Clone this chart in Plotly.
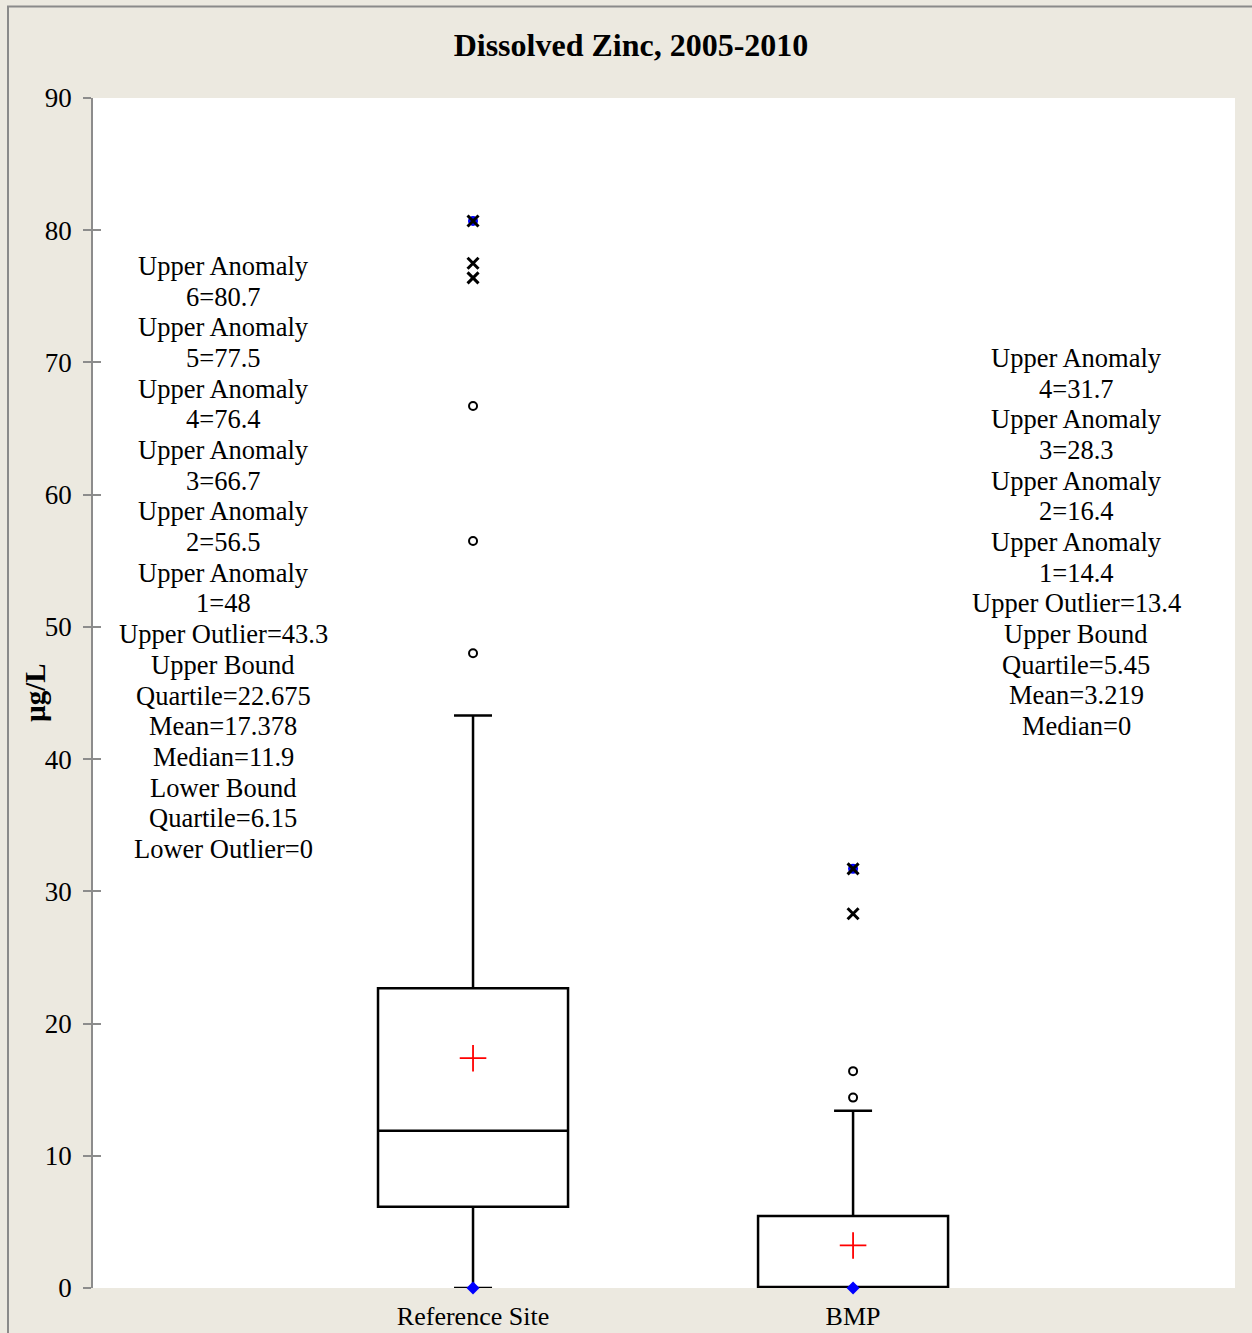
import plotly.graph_objects as go

# ---------------- data ----------------
categories = ["Reference Site", "BMP"]
cat_pos = [1, 2]
q1 = [6.15, 0]
median = [11.9, 0]
q3 = [22.675, 5.45]
mean = [17.378, 3.219]
lower_fence = [0, 0]
upper_fence = [43.3, 13.4]
minimum = [0, 0]

ref_anomalies = [48, 56.5, 66.7, 76.4, 77.5, 80.7]
bmp_anomalies = [14.4, 16.4, 28.3, 31.7]
anomalies = [ref_anomalies, bmp_anomalies]

y_ticks = [0, 10, 20, 30, 40, 50, 60, 70, 80, 90]

FONT = "Liberation Serif"
BG = "#ECE9E0"

fig = go.Figure()

for i, cat in enumerate(categories):
    fig.add_trace(go.Box(
        x=[cat_pos[i]], q1=[q1[i]], median=[median[i]], q3=[q3[i]],
        lowerfence=[lower_fence[i]], upperfence=[upper_fence[i]],
        width=0.5, whiskerwidth=0.2, boxpoints=False,
        fillcolor="white", line=dict(color="black", width=2.5),
        showlegend=False, hoverinfo="skip",
    ))

for i, cat in enumerate(categories):
    vals = anomalies[i]
    extreme_limit = q3[i] + 3 * (q3[i] - q1[i])
    mild = [v for v in vals if v <= extreme_limit]
    extreme = [v for v in vals if v > extreme_limit]
    # mild anomalies: open circles
    fig.add_trace(go.Scatter(
        x=[cat_pos[i]] * len(mild), y=mild, mode="markers",
        marker=dict(symbol="circle-open", size=8, color="black", line=dict(width=2)),
        showlegend=False, cliponaxis=False, hoverinfo="skip"))
    # maximum: blue dot
    fig.add_trace(go.Scatter(
        x=[cat_pos[i]], y=[max(vals)], mode="markers",
        marker=dict(symbol="circle", size=10, color="blue"),
        showlegend=False, cliponaxis=False, hoverinfo="skip"))
    # extreme anomalies: x marks
    fig.add_trace(go.Scatter(
        x=[cat_pos[i]] * len(extreme), y=extreme, mode="markers",
        marker=dict(symbol="x-thin", size=11, color="black", line=dict(width=3, color="black")),
        showlegend=False, cliponaxis=False, hoverinfo="skip"))
    # mean: red plus
    fig.add_trace(go.Scatter(
        x=[cat_pos[i]], y=[mean[i]], mode="markers",
        marker=dict(symbol="cross-thin", size=19, color="red", line=dict(width=1.8, color="red")),
        showlegend=False, cliponaxis=False, hoverinfo="skip"))
    # minimum: blue diamond
    fig.add_trace(go.Scatter(
        x=[cat_pos[i]], y=[minimum[i]], mode="markers",
        marker=dict(symbol="diamond", size=10, color="blue"),
        showlegend=False, cliponaxis=False, hoverinfo="skip"))


def fmt(v):
    return f"{v:g}"


def stat_lines(i):
    vals = sorted(anomalies[i], reverse=True)
    n = len(vals)
    lines = []
    for k, v in enumerate(vals):
        lines += ["Upper Anomaly", f"{n - k}={fmt(v)}"]
    lines += [f"Upper Outlier={fmt(upper_fence[i])}",
              "Upper Bound", f"Quartile={fmt(q3[i])}",
              f"Mean={fmt(mean[i])}", f"Median={fmt(median[i])}"]
    if median[i] != q1[i]:
        lines += ["Lower Bound", f"Quartile={fmt(q1[i])}",
                  f"Lower Outlier={fmt(lower_fence[i])}"]
    return lines


# layout geometry (pixels)
W, H = 1252, 1333
L, R, T, B = 93, 17, 98, 45
pw, ph = W - L - R, H - T - B


def px_to_paper_x(px):
    return (px - L) / pw


def px_to_paper_y(py):
    return (H - B - py) / ph


blocks = [(223, 266), (1076, 358)]
line_step = 30.68
annotations = []
for i, (cx, top) in enumerate(blocks):
    for k, line in enumerate(stat_lines(i)):
        annotations.append(dict(
            text=line, xref="paper", yref="paper",
            x=px_to_paper_x(cx), y=px_to_paper_y(top + k * line_step),
            xanchor="center", yanchor="middle", showarrow=False,
            font=dict(family=FONT, size=26.5, color="black")))

annotations.append(dict(
    text="<b>µg/L</b>", xref="paper", yref="paper",
    x=px_to_paper_x(35), y=px_to_paper_y(693), textangle=-90,
    xanchor="center", yanchor="middle", showarrow=False,
    font=dict(family=FONT, size=29, color="black")))

fig.update_layout(
    width=W, height=H,
    margin=dict(l=L, r=R, t=T, b=B, autoexpand=False),
    paper_bgcolor=BG, plot_bgcolor="white",
    title=dict(text="<b>Dissolved Zinc, 2005-2010</b>", xref="container", yref="container",
               x=631 / W, y=1 - 45 / H, xanchor="center", yanchor="middle",
               font=dict(family=FONT, size=32, color="black")),
    xaxis=dict(range=[0, 3.005], tickvals=cat_pos, ticktext=categories,
               showgrid=False, zeroline=False, showline=False, ticks="",
               ticklabelstandoff=10, automargin=False,
               tickfont=dict(family=FONT, size=26, color="black")),
    yaxis=dict(range=[0, 90], tickvals=y_ticks, showgrid=False, zeroline=False,
               showline=True, linecolor="#8c8c8c", linewidth=1.5,
               ticks="outside", ticklen=8, tickcolor="#8c8c8c", tickwidth=1.5,
               ticklabelstandoff=6, automargin=False,
               tickfont=dict(family=FONT, size=27, color="black")),
    yaxis2=dict(range=[0, 90], tickvals=y_ticks, overlaying="y", side="left",
                showgrid=False, zeroline=False, showline=False, showticklabels=False,
                ticks="inside", ticklen=8, tickcolor="#8c8c8c", tickwidth=1.5,
                automargin=False),
    annotations=annotations,
    shapes=[dict(type="rect", xref="paper", yref="paper",
                 x0=px_to_paper_x(8), x1=px_to_paper_x(W + 20),
                 y0=px_to_paper_y(H + 20), y1=px_to_paper_y(6.5),
                 line=dict(color="#8a8a8a", width=2), fillcolor="rgba(0,0,0,0)",
                 layer="above")],
)
# dummy trace to show the inside ticks axis
fig.add_trace(go.Scatter(x=[None], y=[None], yaxis="y2", showlegend=False, hoverinfo="skip"))

fig.write_html(
    "out.html",
    config={"displayModeBar": False},
    post_script="document.body.style.margin='0';document.body.style.overflow='hidden';",
)
